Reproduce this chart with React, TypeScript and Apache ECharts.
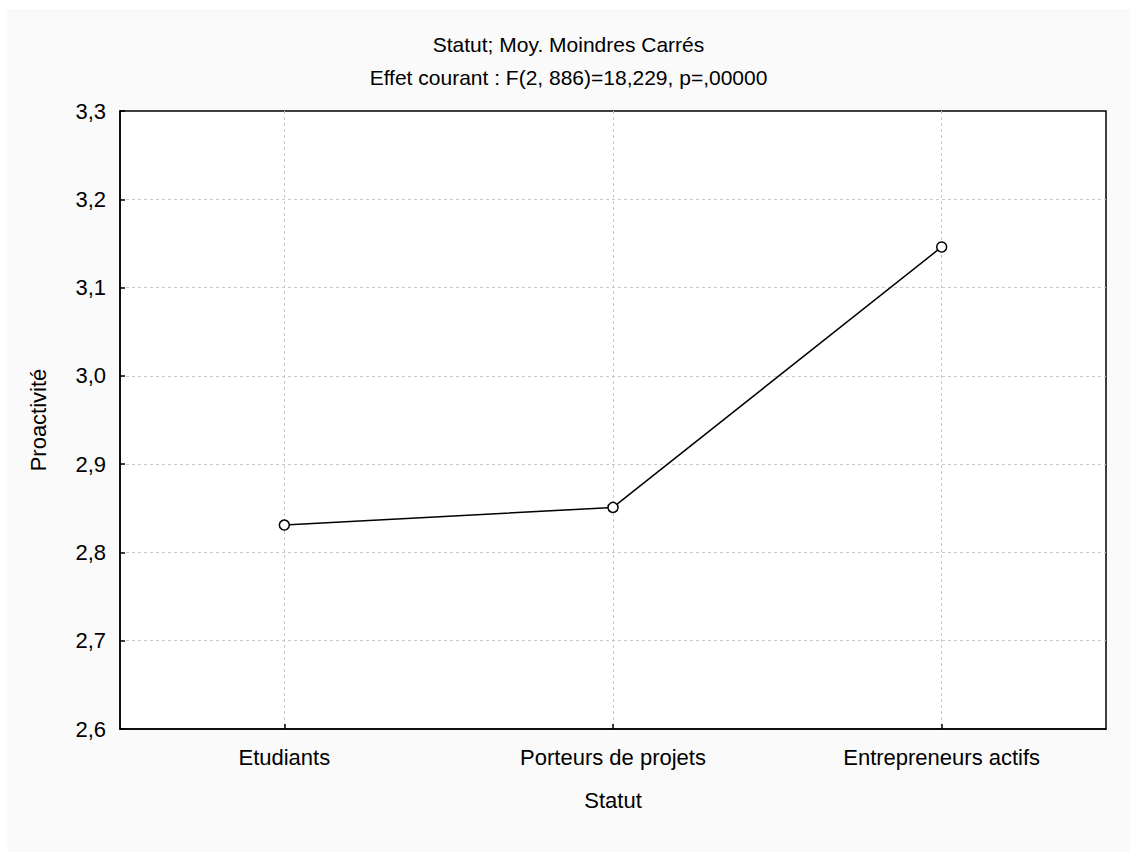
import React, { useEffect, useRef } from "react";
import * as echarts from "echarts";

const categories = ["Etudiants", "Porteurs de projets", "Entrepreneurs actifs"];
const proactivite = [2.831, 2.851, 3.146];
const titleLine1 = "Statut; Moy. Moindres Carrés";
const titleLine2 = "Effet courant : F(2, 886)=18,229, p=,00000";

const FONT = "'Liberation Sans', Arial, sans-serif";

export default function App() {
  const ref = useRef<HTMLDivElement>(null);
  useEffect(() => {
    if (!ref.current) return;
    const chart = echarts.init(ref.current, undefined, { renderer: "svg" });
    // helper axis: half-band slots so grid lines fall on category centres
    const halfSlots: string[] = [];
    for (let i = 0; i <= categories.length * 2; i++) halfSlots.push(String(i));
    chart.setOption({
      animation: false,
      backgroundColor: "#fafafa",
      textStyle: { fontFamily: FONT },
      title: [
        {
          text: titleLine1,
          left: "center",
          top: 20,
          textStyle: { fontFamily: FONT, fontSize: 21, fontWeight: "normal", color: "#000" },
        },
        {
          text: titleLine2,
          left: "center",
          top: 53,
          textStyle: { fontFamily: FONT, fontSize: 21, fontWeight: "normal", color: "#000" },
        },
      ],
      grid: {
        left: 113,
        top: 102,
        right: 24,
        bottom: 123,
        show: true,
        backgroundColor: "#ffffff",
        borderColor: "#000",
        borderWidth: 1.5,
      },
      xAxis: [
        {
          type: "category",
          data: categories,
          boundaryGap: true,
          name: "Statut",
          nameLocation: "middle",
          nameGap: 60,
          nameTextStyle: { fontFamily: FONT, fontSize: 22, color: "#000" },
          axisLine: { show: true, lineStyle: { color: "#000", width: 1.5 } },
          axisTick: { show: true, inside: true, alignWithLabel: true, length: 5, lineStyle: { color: "#000", width: 1.5 } },
          axisLabel: { fontFamily: FONT, fontSize: 22, color: "#000", margin: 17 },
          splitLine: { show: false },
          z: 3,
        },
        {
          type: "category",
          data: halfSlots,
          boundaryGap: false,
          position: "bottom",
          axisLine: { show: false },
          axisTick: { show: false },
          axisLabel: { show: false },
          splitLine: {
            show: true,
            interval: (index: number) => index % 2 === 1,
            lineStyle: { color: "#c8c8c8", type: [3, 3], width: 1 },
          },
          z: 1,
        },
      ],
      yAxis: {
        type: "value",
        min: 2.6,
        max: 3.3,
        interval: 0.1,
        name: "Proactivité",
        nameLocation: "middle",
        nameGap: 71,
        nameTextStyle: { fontFamily: FONT, fontSize: 22, color: "#000" },
        axisLine: { show: true, lineStyle: { color: "#000", width: 1.5 } },
        axisTick: { show: true, inside: true, length: 5, lineStyle: { color: "#000", width: 1.5 } },
        axisLabel: {
          fontFamily: FONT,
          fontSize: 22,
          color: "#000",
          margin: 14,
          formatter: (v: number) => v.toFixed(1).replace(".", ","),
        },
        splitLine: {
          show: true,
          showMinLine: false,
          showMaxLine: false,
          lineStyle: { color: "#c8c8c8", type: [3, 3], width: 1 },
        },
      },
      series: [
        {
          type: "line",
          xAxisIndex: 0,
          data: proactivite,
          symbol: "circle",
          symbolSize: 10,
          lineStyle: { color: "#000", width: 1.5 },
          itemStyle: { color: "#fff", borderColor: "#000", borderWidth: 1.5 },
          z: 5,
        },
      ],
    });
    return () => chart.dispose();
  }, []);
  return (
    <div
      ref={ref}
      style={{ position: "absolute", left: 7, top: 9, width: 1123, height: 843 }}
    />
  );
}
